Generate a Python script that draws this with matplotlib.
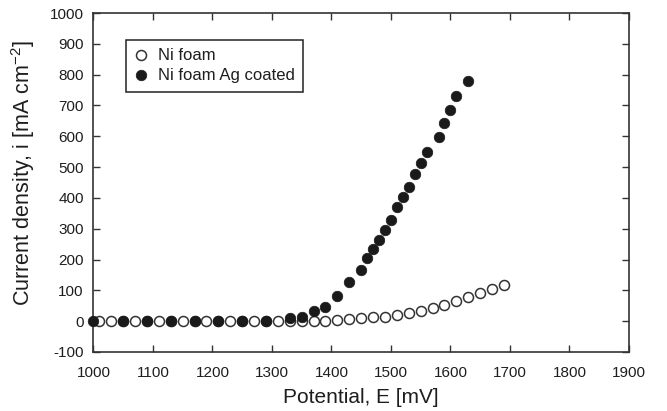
import matplotlib
matplotlib.use("Agg")
import matplotlib.pyplot as plt
import numpy as np

plt.rcParams['font.family'] = ['Liberation Sans', 'DejaVu Sans']
plt.rcParams['axes.unicode_minus'] = False

# Ni foam (open circles)
ni_E = [1010, 1030, 1050, 1070, 1090, 1110, 1130, 1150, 1170, 1190, 1210, 1230,
        1250, 1270, 1290, 1310, 1330, 1350, 1370, 1390, 1410, 1430, 1450, 1470,
        1490, 1510, 1530, 1550, 1570, 1590, 1610, 1630, 1650, 1670, 1690]
ni_i = [0, 0, 0, 0, 0, 0, 0, 0, 0, 0, 0, 0,
        0, 0, 0, 0, 0, 0, 0, 2, 4, 7, 10, 12,
        15, 21, 25, 32, 43, 53, 64, 77, 90, 103, 118]

# Ni foam Ag coated (filled circles)
ag_E = [1000, 1050, 1090, 1130, 1170, 1210, 1250, 1290, 1330, 1350, 1370, 1390,
        1410, 1430, 1450, 1460, 1470, 1480, 1490, 1500, 1510, 1520, 1530, 1540,
        1550, 1560, 1580, 1590, 1600, 1610, 1630]
ag_i = [2, 2, 0, 0, 0, 0, 0, 0, 9, 15, 34, 45,
        83, 128, 166, 205, 234, 265, 297, 329, 369, 402, 437, 476,
        514, 548, 599, 644, 686, 732, 778]

x_ticks = list(range(1000, 1901, 100))
y_ticks = list(range(-100, 1001, 100))

fig = plt.figure(figsize=(6.67, 4.11), dpi=100)
ax = fig.add_axes([0.140, 0.1436, 0.803, 0.8247])

edge = '#333333'
ax.plot(ni_E, ni_i, linestyle='none', marker='o', markersize=7.2,
        markerfacecolor='white', markeredgecolor=edge, markeredgewidth=1.1,
        label='Ni foam', clip_on=False, zorder=3)
ax.plot(ag_E, ag_i, linestyle='none', marker='o', markersize=7.6,
        markerfacecolor='#1a1a1a', markeredgecolor='#1a1a1a', markeredgewidth=0.5,
        label='Ni foam Ag coated', clip_on=False, zorder=4)

ax.set_xlim(1000, 1900)
ax.set_ylim(-100, 1000)
ax.set_xticks(x_ticks)
ax.set_yticks(y_ticks)

for s in ax.spines.values():
    s.set_color(edge)
    s.set_linewidth(1.2)

ax.tick_params(axis='both', direction='in', length=5, width=1.0, color=edge,
               top=True, right=True, labelsize=11, labelcolor='#1e1e1e')
ax.tick_params(axis='x', pad=10)
ax.tick_params(axis='y', pad=7)

ax.set_xlabel('Potential, E [mV]', fontsize=15, color='#1e1e1e', labelpad=6)
ax.set_ylabel('Current density, i [mA cm$^{\\mathregular{-2}}$]', fontsize=15.5,
              color='#1e1e1e')
ax.yaxis.set_label_coords(-0.105, 0.527)

leg = ax.legend(loc='upper left', bbox_to_anchor=(0.0607, 0.920), borderaxespad=0,
                fontsize=12, frameon=True, fancybox=False, shadow=False,
                handlelength=0.8, handletextpad=0.6, borderpad=0.5,
                labelspacing=0.3, edgecolor='#222222', framealpha=1)
leg.get_frame().set_linewidth(1.1)
for t in leg.get_texts():
    t.set_color('#1e1e1e')

fig.savefig('out.png', dpi=100)
